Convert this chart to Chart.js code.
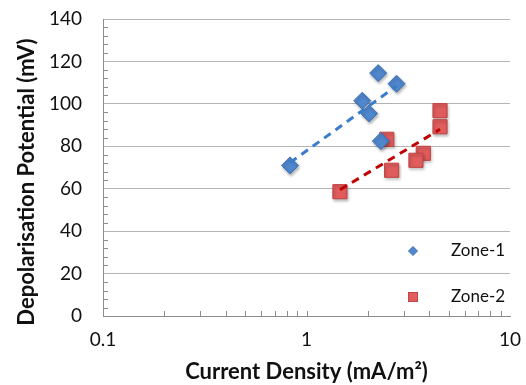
<!DOCTYPE html>
<html>
<head>
<meta charset="utf-8">
<script src="https://cdn.jsdelivr.net/npm/chart.js@4.4.1/dist/chart.umd.min.js"></script>
<style>
html,body{margin:0;padding:0;background:#fff;}
#wrap{position:relative;width:526px;height:385px;}
</style>
</head>
<body>
<div id="wrap"><canvas id="c" width="526" height="385"></canvas></div>
<script>
// ---- data ----
const zone1X = [0.83, 2.25, 2.77, 1.88, 2.03, 2.32];
const zone1Y = [71, 114.5, 109.5, 101.5, 95.5, 82.5];
const zone2X = [4.53, 4.53, 2.48, 3.75, 3.45, 2.62, 1.46];
const zone2Y = [96.8, 89.2, 83.3, 76.7, 73.4, 68.7, 58.6];
// trend line end points (log fit, straight on a log axis)
const trend1X = [0.83, 2.77];
const trend1Y = [72.3, 108.4];
const trend2X = [1.46, 4.53];
const trend2Y = [59.5, 88.0];
const xTickValues = [0.1, 1, 10];
const xMinorValues = [0.2,0.3,0.4,0.5,0.6,0.7,0.8,0.9,1,2,3,4,5,6,7,8,9];
const seriesNames = ['Zone-1', 'Zone-2'];
const xTitle = 'Current Density (mA/m\u00B2)';
const yTitle = 'Depolarisation Potential (mV)';

const pts = (xs, ys) => xs.map((x, i) => ({x: x, y: ys[i]}));

const FONT = 'Lato, "Open Sans", sans-serif';
const blueFill = '#4F86CC', blueBorder = '#3B6FB5';
const redFill = '#E15C5C', redBorder = '#C24444';

const minorTicks = {
  id: 'minorTicks',
  afterDatasetsDraw(chart) {
    const ctx = chart.ctx, xs = chart.scales.x, ys = chart.scales.y;
    const a = chart.chartArea;
    ctx.save();
    ctx.strokeStyle = '#8c8c8c';
    ctx.lineWidth = 1;
    ctx.beginPath();
    for (let v = 0; v <= 140; v += 4) {
      if (v % 20 === 0) continue;
      const y = Math.round(ys.getPixelForValue(v)) + 0.5;
      ctx.moveTo(a.left, y); ctx.lineTo(a.left + 5, y);
    }
    xMinorValues.forEach(v => {
      const x = Math.round(xs.getPixelForValue(v)) + 0.5;
      ctx.moveTo(x, a.bottom); ctx.lineTo(x, a.bottom - 5);
    });
    ctx.stroke();
    ctx.restore();
  }
};

const textPlugin = {
  id: 'customText',
  afterDraw(chart) {
    const ctx = chart.ctx;
    ctx.save();
    // y axis title
    ctx.save();
    ctx.translate(27, 182);
    ctx.rotate(-Math.PI / 2);
    ctx.font = 'bold 22px ' + FONT;
    ctx.fillStyle = '#111';
    ctx.textAlign = 'center';
    ctx.textBaseline = 'middle';
    ctx.fillText(yTitle, 0, 0);
    ctx.restore();
    // legend
    ctx.font = '17px ' + FONT;
    ctx.textBaseline = 'middle';
    ctx.textAlign = 'left';
    const y1 = 251, y2 = 297, mx = 413, tx = 451;
    ctx.fillStyle = blueFill; ctx.strokeStyle = blueBorder; ctx.lineWidth = 1;
    ctx.beginPath();
    ctx.moveTo(mx, y1 - 4.5); ctx.lineTo(mx + 4.5, y1); ctx.lineTo(mx, y1 + 4.5); ctx.lineTo(mx - 4.5, y1);
    ctx.closePath(); ctx.fill(); ctx.stroke();
    ctx.fillStyle = redFill; ctx.strokeStyle = redBorder;
    ctx.fillRect(mx - 5, y2 - 5, 10, 10);
    ctx.strokeRect(mx - 5 + 0.5, y2 - 5 + 0.5, 9, 9);
    ctx.fillStyle = '#111';
    ctx.fillText(seriesNames[0], tx, y1);
    ctx.fillText(seriesNames[1], tx, y2);
    ctx.restore();
  }
};

const shadowPlugin = {
  id: 'markerShadow',
  beforeDatasetDraw(chart, args) {
    if (args.meta.type === 'scatter' && args.index >= 2) {
      chart.ctx.save();
      chart.ctx.shadowColor = 'rgba(0,0,0,0.3)';
      chart.ctx.shadowBlur = 3;
      chart.ctx.shadowOffsetX = 1;
      chart.ctx.shadowOffsetY = 2;
    }
  },
  afterDatasetDraw(chart, args) {
    if (args.meta.type === 'scatter' && args.index >= 2) chart.ctx.restore();
  }
};

new Chart(document.getElementById('c'), {
  type: 'scatter',
  data: {
    datasets: [
      { type: 'line', label: 'trend1', data: pts(trend1X, trend1Y), borderColor: '#3A7DC9',
        borderWidth: 3, borderDash: [8, 6], pointRadius: 0, fill: false, order: 0 },
      { type: 'line', label: 'trend2', data: pts(trend2X, trend2Y), borderColor: '#C00000',
        borderWidth: 3, borderDash: [8, 6], pointRadius: 0, fill: false, order: 0 },
      { type: 'scatter', label: seriesNames[0], data: pts(zone1X, zone1Y), pointStyle: 'rectRot',
        pointRadius: 8.5, backgroundColor: blueFill, borderColor: blueBorder, borderWidth: 1, order: 1 },
      { type: 'scatter', label: seriesNames[1], data: pts(zone2X, zone2Y), pointStyle: 'rect',
        pointRadius: 10, backgroundColor: redFill, borderColor: redBorder, borderWidth: 1, order: 1 }
    ]
  },
  options: {
    responsive: false,
    animation: false,
    devicePixelRatio: 1,
    layout: { padding: { left: 0, right: 16, top: 19, bottom: 0 } },
    plugins: { legend: { display: false }, tooltip: { enabled: false } },
    scales: {
      x: {
        type: 'logarithmic', min: 0.1, max: 10,
        afterBuildTicks: (s) => { s.ticks = xTickValues.map(v => ({value: v})); },
        afterFit: (s) => { s.height = 69; },
        grid: { display: true, drawOnChartArea: false, drawTicks: true, tickLength: 12, tickColor: 'rgba(0,0,0,0)' },
        border: { display: true, color: '#8c8c8c', width: 1 },
        ticks: { padding: 0, color: '#111', font: { family: FONT, size: 19 },
          callback: (v) => String(v), autoSkip: false, maxRotation: 0 },
        title: { display: true, text: xTitle, color: '#111',
          font: { family: FONT, size: 22, weight: 'bold' }, padding: { top: 0, bottom: 0 } }
      },
      y: {
        min: 0, max: 140,
        afterFit: (s) => { s.width = 103; },
        grid: { color: '#b4b4b4', lineWidth: 1, drawTicks: true, tickLength: 21, tickColor: 'rgba(0,0,0,0)' },
        border: { display: true, color: '#8c8c8c', width: 1 },
        ticks: { stepSize: 20, padding: 0, color: '#111', font: { family: FONT, size: 19 } },
        title: { display: false, text: yTitle }
      }
    }
  },
  plugins: [minorTicks, textPlugin, shadowPlugin]
});
</script>
</body>
</html>
